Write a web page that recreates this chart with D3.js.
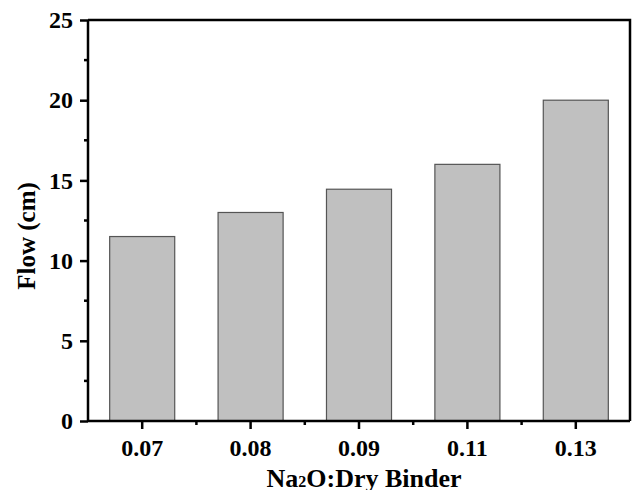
<!DOCTYPE html>
<html>
<head>
<meta charset="utf-8">
<script src="https://cdn.jsdelivr.net/npm/d3@7"></script>
<style>
  html, body { margin: 0; padding: 0; background: #fff; overflow: hidden; }
  svg { display: block; }
  text { font-family: "Liberation Serif", "Times New Roman", serif; font-weight: bold; }
</style>
</head>
<body>
<svg id="chart"></svg>
<script>
// data
const ratios = ["0.07", "0.08", "0.09", "0.11", "0.13"];
const flow = [11.5, 13, 14.45, 16, 20];
const yTicks = [0, 5, 10, 15, 20, 25];

const width = 632;
const height = 490;
const margin = { top: 20, right: 2, bottom: 69, left: 88 };
const innerWidth = width - margin.left - margin.right;
const innerHeight = height - margin.top - margin.bottom;

const svg = d3.select("#chart")
  .attr("width", width)
  .attr("height", height);

const g = svg.append("g")
  .attr("transform", `translate(${margin.left}, ${margin.top})`);

const x = d3.scaleBand()
  .domain(ratios)
  .range([0, innerWidth])
  .paddingInner(0.4)
  .paddingOuter(0.2);

const y = d3.scaleLinear()
  .domain([0, 25])
  .range([innerHeight, 0]);

// bars
g.selectAll("rect.bar")
  .data(flow)
  .enter()
  .append("rect")
  .attr("class", "bar")
  .attr("x", (d, i) => x(ratios[i]))
  .attr("y", d => y(d))
  .attr("width", x.bandwidth())
  .attr("height", d => innerHeight - y(d))
  .attr("fill", "#c0c0c0")
  .attr("stroke", "#555")
  .attr("stroke-width", 1.2);

// frame (top and right)
g.append("path")
  .attr("d", `M0,0H${innerWidth}V${innerHeight}`)
  .attr("fill", "none")
  .attr("stroke", "#000")
  .attr("stroke-width", 2.5);

// y axis
const yAxis = d3.axisLeft(y)
  .tickValues(yTicks)
  .tickSize(8)
  .tickPadding(7);

const yg = g.append("g").call(yAxis);

// minor y ticks
g.append("g").selectAll("line")
  .data(d3.range(2.5, 25, 5))
  .enter()
  .append("line")
  .attr("x1", -4).attr("x2", 0)
  .attr("y1", d => y(d)).attr("y2", d => y(d))
  .attr("stroke", "#000")
  .attr("stroke-width", 2.5);

// x axis
const xAxis = d3.axisBottom(x)
  .tickSize(8)
  .tickPadding(10);

const xg = g.append("g")
  .attr("transform", `translate(0, ${innerHeight})`)
  .call(xAxis);

// minor x ticks between categories
const step = x.step();
g.append("g").selectAll("line")
  .data(d3.range(1, ratios.length))
  .enter()
  .append("line")
  .attr("x1", d => d * step).attr("x2", d => d * step)
  .attr("y1", innerHeight).attr("y2", innerHeight + 4)
  .attr("stroke", "#000")
  .attr("stroke-width", 2.5);

[yg, xg].forEach(a => {
  a.attr("font-size", 24).attr("font-family", null);
  a.select(".domain").attr("stroke-width", 2.5);
  a.selectAll(".tick line").attr("stroke-width", 2.5);
  a.selectAll(".tick text")
    .attr("font-size", 24)
    .attr("fill", "#000");
});
xg.select(".domain").attr("d", `M0,0H${innerWidth}`);
yg.select(".domain").attr("d", `M0,${innerHeight}V0`);

// axis titles
svg.append("text")
  .attr("transform", "translate(35, 236) rotate(-90)")
  .attr("text-anchor", "middle")
  .attr("font-size", 25)
  .text("Flow (cm)");

const xt = svg.append("text")
  .attr("x", 364)
  .attr("y", 487)
  .attr("text-anchor", "middle")
  .attr("font-size", 26);
xt.append("tspan").text("Na");
xt.append("tspan").attr("font-size", 16).text("2");
xt.append("tspan").text("O:Dry Binder");
</script>
</body>
</html>
